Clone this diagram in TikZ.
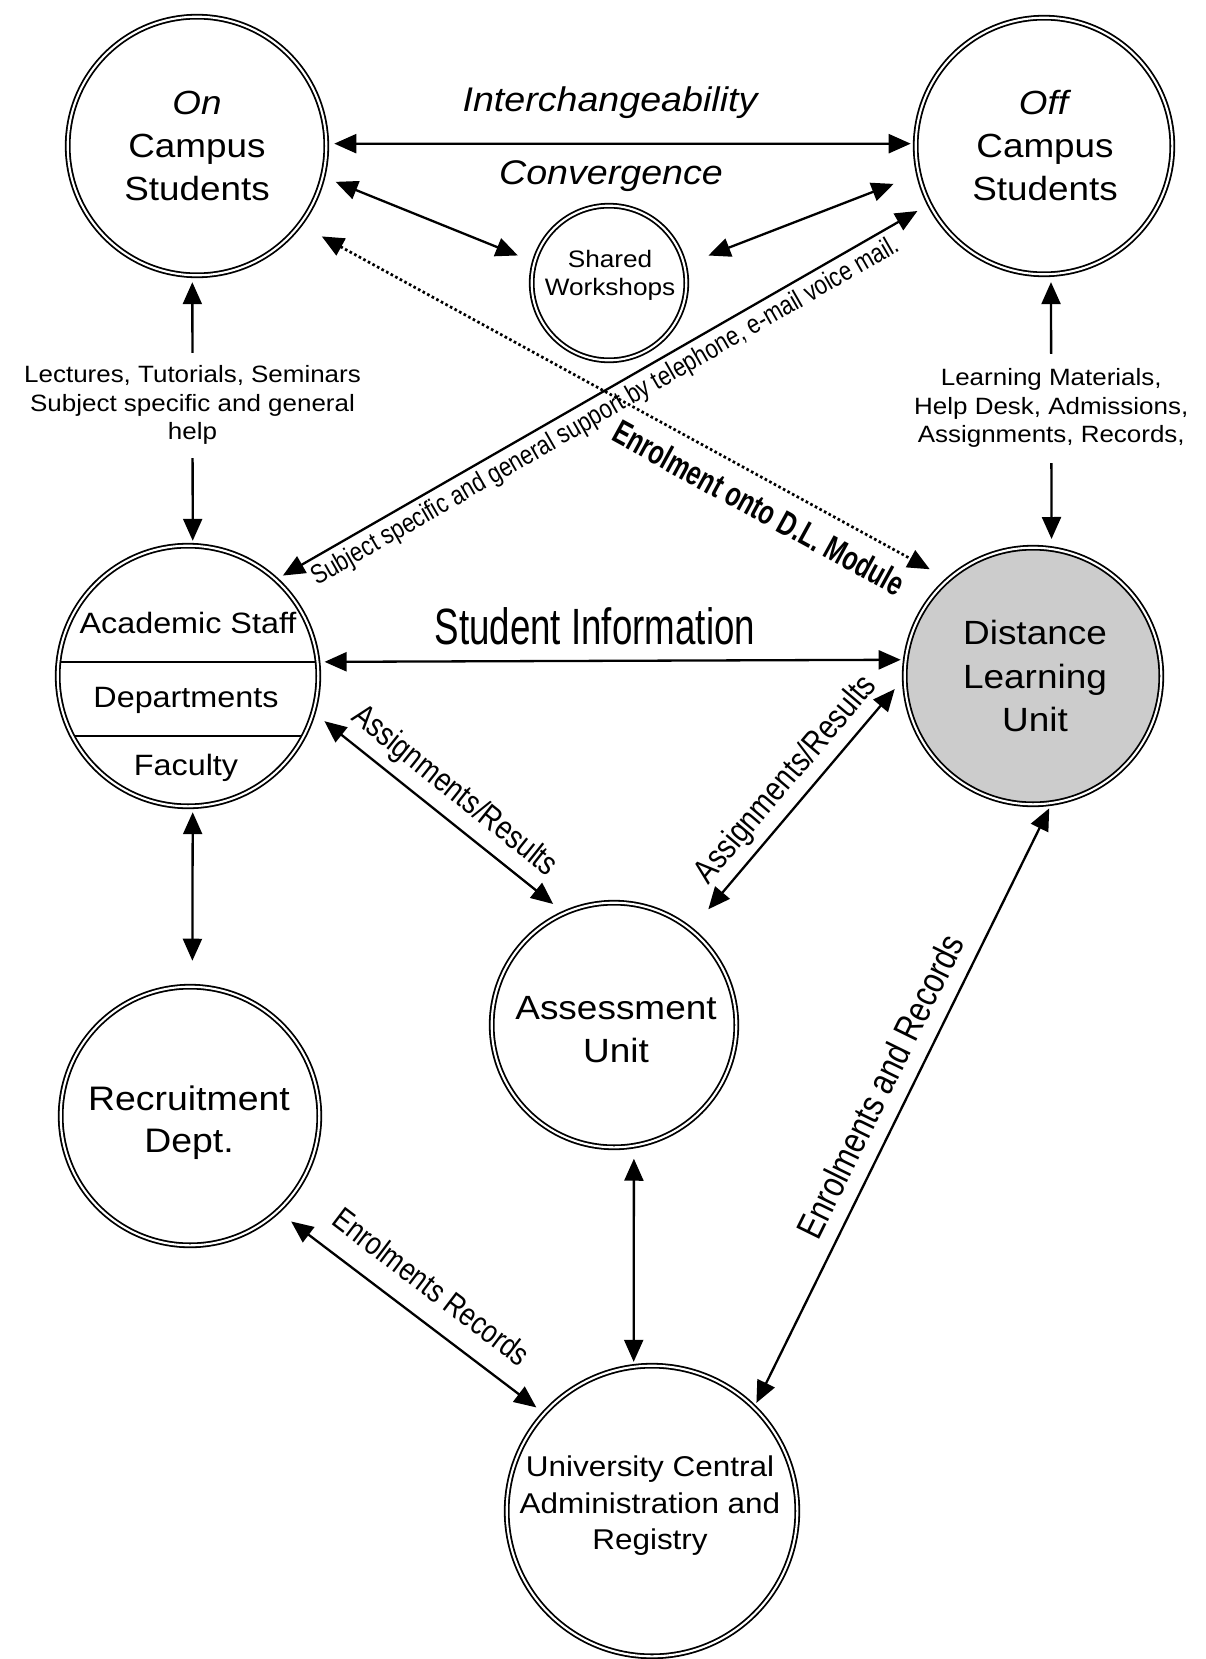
\documentclass[tikz,border=0pt]{standalone}
\usepackage{fontspec}
\setmainfont{Liberation Sans}[FakeStretch=1.1]
\newfontfamily\narrowfont{Liberation Sans}[FakeStretch=0.82]
\newfontfamily\condfont{Liberation Sans}[FakeStretch=0.72]
\usetikzlibrary{arrows.meta}

\begin{document}
\begin{tikzpicture}[x=1pt, y=-1pt,
  >={Triangle[length=22pt,width=19pt]},
  unit/.style={circle, draw=black, line width=1.8pt, double=white,
    double distance=2.1pt, inner sep=0pt, outer sep=5pt},
  link/.style={<->, line width=2.3pt},
  dots/.style={<->, line width=2.7pt, dash pattern=on 2.6pt off 2.6pt},
  body/.style={align=center, inner sep=0pt},
  tag/.style={inner sep=0pt},
]
\useasboundingbox (0,0) rectangle (1206,1659);

% ---------- units ----------
\node[unit, minimum size=258.6pt] (On) at (197,146) {};
\node[unit, minimum size=256.6pt] (Off) at (1044,146) {};
\node[unit, minimum size=154.6pt] (Shared) at (609,283) {};
\node[unit, minimum size=260.6pt] (Acad) at (188,676) {};
\node[unit, minimum size=256.6pt, fill=black!20] (DLU) at (1033,676) {};
\node[unit, minimum size=244.6pt] (Assess) at (614,1025) {};
\node[unit, minimum size=258.6pt] (Recruit) at (190,1116) {};
\node[unit, minimum size=290.6pt] (Univ) at (652,1511) {};

% ---------- texts inside the units ----------
\node[body, font=\fontsize{33.5}{43}\selectfont] (OnTxt) at (197,146)
  {\textit{On}\\Campus\\Students};
\node[body, font=\fontsize{33.5}{43}\selectfont] (OffTxt) at (1045,146)
  {\textit{Off}\\Campus\\Students};
\node[body, font=\fontsize{23.8}{28}\selectfont] (SharedTxt) at (610,275)
  {Shared\\Workshops};
\node[body, font=\fontsize{33.6}{43.5}\selectfont] (DLUTxt) at (1035,676)
  {Distance\\Learning\\Unit};
\node[body, font=\fontsize{33.6}{43}\selectfont] (AssessTxt) at (616,1030)
  {Assessment\\Unit};
\node[body, font=\fontsize{34}{42}\selectfont] (RecruitTxt) at (189,1123)
  {Recruitment\\Dept.};
\node[body, font=\fontsize{28.6}{36.5}\selectfont] (UnivTxt) at (650,1506)
  {University Central\\Administration and\\Registry};

% academic unit split into three bands
\draw[line width=1.4pt] ([shift={(-126.8,-14)}]Acad.center) -- ([shift={(126.8,-14)}]Acad.center);
\draw[line width=1.4pt] ([shift={(-112.6,60)}]Acad.center) -- ([shift={(112.6,60)}]Acad.center);
\node[anchor=base, inner sep=0pt, font=\fontsize{29.4}{34}\selectfont] (Staff) at (188,633) {Academic Staff};
\node[anchor=base, inner sep=0pt, font=\fontsize{29.4}{34}\selectfont] (Depts) at (186,707) {Departments};
\node[anchor=base, inner sep=0pt, font=\fontsize{29.4}{34}\selectfont] (Fac) at (186,775) {Faculty};

% ---------- headings between the student groups ----------
\node[anchor=base, inner sep=0pt, font=\itshape\fontsize{34.2}{40}\selectfont] (Interch) at (610,112) {Interchangeability};
\node[anchor=base, inner sep=0pt, font=\itshape\fontsize{34.2}{40}\selectfont] (Conv) at (611,184) {Convergence};

% ---------- connectors ----------
\draw[link, shorten <=3pt] (On.1) -- (Off.179);
\draw[link, shorten <=9pt, shorten >=13pt] (On.-14) -- (Shared.164);
\draw[link, shorten <=21pt, shorten >=22pt] (Shared.14) -- (Off.-167);

\draw[dots, shorten <=20pt, shorten >=16pt] (On.-37) --
  node[tag, sloped, pos=.732, yshift=-28pt,
       font=\condfont\bfseries\fontsize{34}{38}\selectfont] (Enrol) {Enrolment onto D.L. Module}
  (DLU.132);

\draw[link, shorten <=3pt, shorten >=9pt] (Acad.47) --
  node[tag, sloped, pos=.49, yshift=-19pt,
       font=\narrowfont\fontsize{27}{30}\selectfont] (Support)
  {Subject specific and general support by telephone, e-mail voice mail.}
  (Off.-153);

\draw[link, shorten <=2pt] (On.-92.6) --
  node[pos=.48, fill=white, align=center, inner xsep=2pt, inner ysep=13pt,
       font=\fontsize{23.6}{28.5}\selectfont] (Lect)
  {Lectures, Tutorials, Seminars\\Subject specific and general\\help}
  (Acad.88.7);

\draw[link, shorten <=3pt, shorten >=5pt] (Off.-87.4) --
  node[pos=.487, fill=white, align=center, inner xsep=2pt, inner ysep=15pt,
       font=\fontsize{23.6}{28.5}\selectfont] (Learn)
  {Learning Materials,\\Help Desk, Admissions,\\Assignments, Records,}
  (DLU.82.5);

\draw[link, shorten <=2pt] (Acad.6.7) --
  node[tag, pos=.471, anchor=base, yshift=16pt,
       font=\condfont\fontsize{51}{56}\selectfont] (StudInfo) {Student Information}
  (DLU.173);

\draw[link, shorten <=9pt, shorten >=9pt] (Acad.-17) --
  node[tag, sloped, pos=.496, yshift=26pt,
       font=\narrowfont\fontsize{33}{36}\selectfont] (AssignL) {Assignments/Results}
  (Assess.115);

\draw[link, shorten <=22pt, shorten >=8pt] (Assess.51.5) --
  node[tag, sloped, pos=.537, yshift=24pt,
       font=\narrowfont\fontsize{34}{37}\selectfont] (AssignR) {Assignments/Results}
  (DLU.-177);

\draw[link, shorten <=1pt, shorten >=21pt] (Acad.-88.3) -- (Recruit.89);

\draw[link, shorten <=12pt, shorten >=5pt] (Recruit.-47) --
  node[tag, sloped, pos=.503, yshift=33pt,
       font=\narrowfont\fontsize{32}{35}\selectfont] (EnrRec) {Enrolments Records}
  (Univ.138);

\draw[link, shorten <=8pt] (Assess.-81) -- (Univ.97.4);

\draw[link] (Univ.46) --
  node[tag, sloped, pos=.511, yshift=29pt,
       font=\narrowfont\fontsize{37}{40}\selectfont] (EnrAndRec) {Enrolments and Records}
  (DLU.-83);

\end{tikzpicture}
\end{document}
